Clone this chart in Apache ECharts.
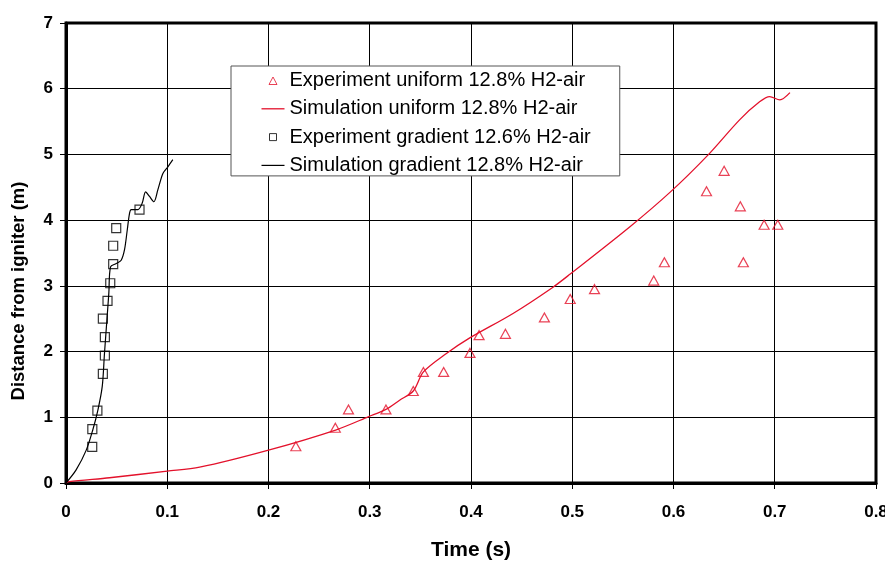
<!DOCTYPE html>
<html><head><meta charset="utf-8">
<script src="https://cdn.jsdelivr.net/npm/echarts@6/dist/echarts.min.js"></script>
<style>html,body{margin:0;padding:0;background:#fff}#c{width:885px;height:561px}</style>
</head><body><div id="c"></div>
<script>
var xTicks = [0,0.1,0.2,0.3,0.4,0.5,0.6,0.7,0.8];
var yTicks = [0,1,2,3,4,5,6,7];
var seriesNames = ["Experiment uniform 12.8% H2-air","Simulation uniform 12.8% H2-air","Experiment gradient 12.6% H2-air","Simulation gradient 12.8% H2-air"];

var uniExpT = [0.227,0.266,0.279,0.316,0.343,0.353,0.373,0.399,0.408,0.434,0.4725,0.498,0.522,0.5805,0.591,0.6326,0.650,0.666,0.669,0.6895,0.703];
var uniExpD = [0.56,0.84,1.12,1.12,1.40,1.69,1.69,1.98,2.25,2.27,2.52,2.80,2.95,3.08,3.36,4.44,4.75,4.21,3.36,3.93,3.93];

var uniSimT = [0,0.003,0.043,0.1,0.132,0.2,0.267,0.299,0.316,0.3295,0.343,0.353,0.3757,0.398,0.4415,0.481,0.498,0.557,0.597,0.634,0.6655,0.685,0.695,0.705,0.715];
var uniSimD = [0,0.02,0.08,0.18,0.24,0.50,0.81,1.01,1.12,1.26,1.40,1.69,1.97,2.20,2.58,2.98,3.18,3.90,4.43,4.99,5.53,5.80,5.88,5.83,5.94];

var gradExpT = [0.0259,0.026,0.031,0.0364,0.0384,0.0384,0.0364,0.041,0.0437,0.0466,0.0466,0.0496,0.0726];
var gradExpD = [0.55,0.82,1.10,1.66,1.94,2.22,2.50,2.77,3.04,3.33,3.61,3.88,4.16];

var gradSimT = [0,0.010,0.020,0.0265,0.0315,0.0358,0.038,0.0404,0.0423,0.044,0.0496,0.0545,0.0578,0.0605,0.0627,0.0644,0.071,0.0753,0.0786,0.0825,0.0868,0.0907,0.0957,0.1006,0.1055];
var gradSimD = [0,0.20,0.50,0.81,1.11,1.47,1.97,2.48,2.89,3.29,3.34,3.39,3.55,3.85,4.10,4.16,4.16,4.26,4.43,4.36,4.28,4.46,4.71,4.81,4.92];

function zip(a,b){return a.map(function(v,i){return [v,b[i]];});}
var RED = '#e3112b';
var FONT = "'Liberation Sans',Arial,sans-serif";
var chart = echarts.init(document.getElementById('c'));
var labFont = {fontFamily:FONT,fontWeight:'bold',fontSize:17,color:'#000'};
var BOX = 'M0,0M23,14';
chart.setOption({
  animation:false,
  backgroundColor:'#fff',
  grid:{left:66,top:23,width:810,height:460,outerBoundsMode:'none',containLabel:false,show:true,borderColor:'#000',borderWidth:3,backgroundColor:'transparent'},
  legend:{
    orient:'vertical',left:231,top:66,
    padding:[4.5,29,0.5,28],
    backgroundColor:'#fff',borderColor:'#555',borderWidth:1,
    itemWidth:23,itemHeight:14,itemGap:8.3,
    textStyle:{fontFamily:FONT,fontSize:20,color:'#000',lineHeight:20},
    data:[
      {name:seriesNames[0],icon:'path://'+BOX+'M7.5,11L15.5,11L11.5,3.5Z',itemStyle:{color:'#fff',borderColor:RED,borderWidth:1}},
      {name:seriesNames[1],icon:'path://'+BOX+'M0,7L23,7',itemStyle:{color:'none',borderColor:RED,borderWidth:1.3}},
      {name:seriesNames[2],icon:'path://'+BOX+'M8,3.5L15,3.5L15,10.5L8,10.5Z',itemStyle:{color:'#fff',borderColor:'#000',borderWidth:1}},
      {name:seriesNames[3],icon:'path://'+BOX+'M0,7L23,7',itemStyle:{color:'none',borderColor:'#000',borderWidth:1.2}}
    ]
  },
  xAxis:{
    type:'value',min:0,max:0.8,interval:0.1,
    name:'Time (s)',nameLocation:'middle',nameGap:57,
    nameTextStyle:{fontFamily:FONT,fontWeight:'bold',fontSize:21,color:'#000'},
    axisLine:{show:true,lineStyle:{color:'#000',width:3}},
    axisTick:{show:true,inside:false,length:6,lineStyle:{color:'#000',width:1}},
    axisLabel:Object.assign({margin:21,formatter:function(v){return String(Math.round(v*10)/10);}},labFont),
    splitLine:{show:true,lineStyle:{color:'#000',width:1}}
  },
  yAxis:{
    type:'value',min:0,max:7,interval:1,
    name:'Distance from igniter (m)',nameLocation:'middle',nameGap:38,
    nameTextStyle:{fontFamily:FONT,fontWeight:'bold',fontSize:18.5,color:'#000',padding:[0,76,0,0]},
    axisLine:{show:true,lineStyle:{color:'#000',width:3}},
    axisTick:{show:true,inside:false,length:6,lineStyle:{color:'#000',width:1}},
    axisLabel:Object.assign({margin:13},labFont),
    splitLine:{show:true,lineStyle:{color:'#000',width:1}}
  },
  series:[
    {name:seriesNames[0],type:'scatter',data:zip(uniExpT,uniExpD),symbol:'triangle',symbolSize:[10,9],
     itemStyle:{color:'rgba(255,255,255,0)',borderColor:RED,borderWidth:1.2},z:5},
    {name:seriesNames[1],type:'line',data:zip(uniSimT,uniSimD),symbol:'none',smooth:0.3,
     lineStyle:{color:RED,width:1.3},itemStyle:{color:RED},z:4},
    {name:seriesNames[2],type:'scatter',data:zip(gradExpT,gradExpD),symbol:'rect',symbolSize:9,
     itemStyle:{color:'rgba(255,255,255,0)',borderColor:'#000',borderWidth:1.2},z:5},
    {name:seriesNames[3],type:'line',data:zip(gradSimT,gradSimD),symbol:'none',smooth:0.3,
     lineStyle:{color:'#000',width:1.2},itemStyle:{color:'#000'},z:4}
  ]
});
</script></body></html>
